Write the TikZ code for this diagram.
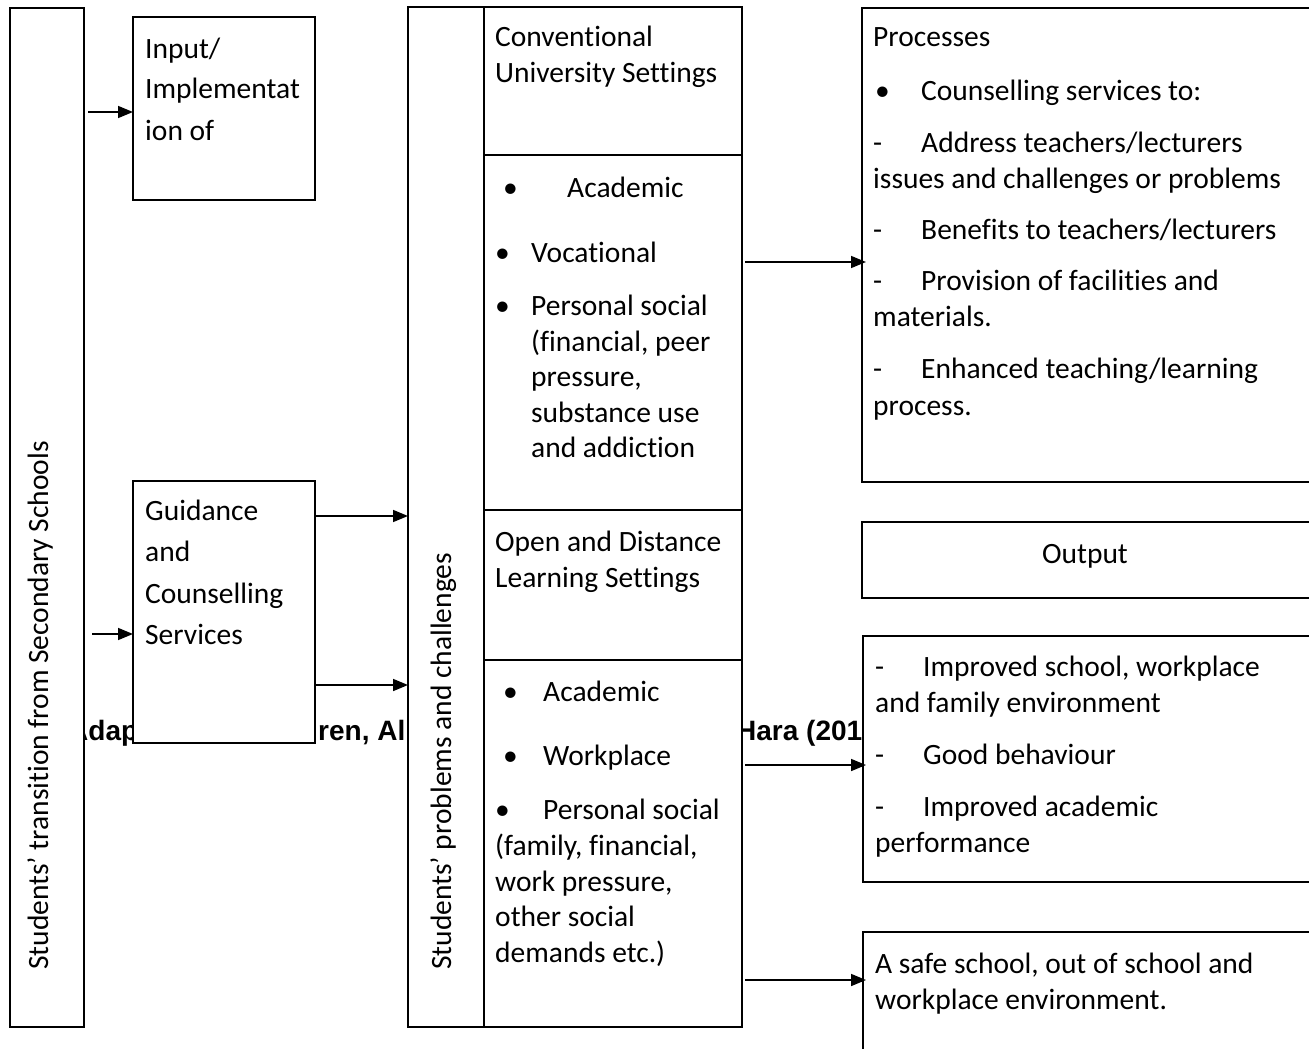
\documentclass[tikz,border=0pt]{standalone}
\usepackage{fontspec}
\setmainfont{Carlito}[Ligatures={NoCommon}]
\newfontfamily\arialfont{Liberation Sans}
\usetikzlibrary{arrows.meta,calc}
\begin{document}
\begin{tikzpicture}[x=1pt,y=-1pt,
  box/.style={draw,line width=1.6pt,fill=white,anchor=north west,inner sep=0pt,outer sep=0pt},
  txt/.style={anchor=base west,inner sep=0pt,font=\fontsize{29.5}{36}\selectfont},
  boldtxt/.style={anchor=base west,inner sep=0pt,font=\arialfont\bfseries\fontsize{28}{32}\selectfont},
  arr/.style={line width=1.6pt,-{Triangle[length=15pt,width=12pt]}}]
\useasboundingbox (0,0) rectangle (1309,1049);
\clip (0,0) rectangle (1309,1049);
% partly hidden bold caption
\node[boldtxt] (b1) at (68,740) {Adap};
\node[boldtxt] (b2) at (318,740) {ren, Al};
\node[boldtxt] (b3) at (736,740) {Hara (201};
% boxes
\node[box,minimum width=74pt,minimum height=1019pt] (left) at (10,8) {};
\node[box,minimum width=182pt,minimum height=183pt] (inp) at (133,17) {};
\node[box,minimum width=182pt,minimum height=262pt] (gui) at (133,481) {};
\node[box,minimum width=76pt,minimum height=1020pt] (col) at (408,7) {};
\node[box,minimum width=258pt,minimum height=148pt] (c1) at (484,7) {};
\node[box,minimum width=258pt,minimum height=355pt] (c2) at (484,155) {};
\node[box,minimum width=258pt,minimum height=150pt] (c3) at (484,510) {};
\node[box,minimum width=258pt,minimum height=367pt] (c4) at (484,660) {};
\node[box,minimum width=460pt,minimum height=474pt] (proc) at (862,8) {};
\node[box,minimum width=460pt,minimum height=76pt] (outp) at (862,522) {};
\node[box,minimum width=460pt,minimum height=246pt] (impr) at (863,636) {};
\node[box,minimum width=460pt,minimum height=140pt] (safe) at (863,932) {};
% rotated labels
\node[txt,rotate=90] (lt) at (48,970) {Students’ transition from Secondary Schools};
\node[txt,rotate=90] (mt) at (451,970) {Students’ problems and challenges};
% input box
\node[txt] (t1) at (145,59) {Input/};
\node[txt] (t2) at (145,99) {Implementat};
\node[txt] (t3) at (145,140) {ion of};
% guidance
\node[txt] (g1) at (145,520) {Guidance};
\node[txt] (g2) at (145,561) {and};
\node[txt] (g3) at (145,603) {Counselling};
\node[txt] (g4) at (145,644) {Services};
% conventional
\node[txt] (u1) at (495,47) {Conventional};
\node[txt] (u2) at (495,82) {University Settings};
\node[txt] (ub1) at (503,197) {•};
\node[txt] (u3) at (567,197) {Academic};
\node[txt] (ub2) at (495,262) {•};
\node[txt] (u4) at (531,262) {Vocational};
\node[txt] (ub3) at (495,315) {•};
\node[txt] (u5) at (531,315) {Personal social};
\node[txt] (u6) at (531,351) {(financial, peer};
\node[txt] (u7) at (531,386) {pressure,};
\node[txt] (u8) at (531,422) {substance use};
\node[txt] (u9) at (531,457) {and addiction};
% open and distance
\node[txt] (o1) at (495,551) {Open and Distance};
\node[txt] (o2) at (495,587) {Learning Settings};
\node[txt] (ob1) at (503,701) {•};
\node[txt] (o3) at (543,701) {Academic};
\node[txt] (ob2) at (503,765) {•};
\node[txt] (o4) at (543,765) {Workplace};
\node[txt] (ob3) at (495,819) {•};
\node[txt] (o5) at (543,819) {Personal social};
\node[txt] (o6) at (495,855) {(family, financial,};
\node[txt] (o7) at (495,891) {work pressure,};
\node[txt] (o8) at (495,926) {other social};
\node[txt] (o9) at (495,962) {demands etc.)};
% processes
\node[txt] (p1) at (873,47) {Processes};
\node[txt] (pb1) at (875,100) {•};
\node[txt] (p2) at (921,100) {Counselling services to:};
\node[txt] (pd1) at (873,152) {-};
\node[txt] (p3) at (921,152) {Address teachers/lecturers};
\node[txt] (p4) at (873,188) {issues and challenges or problems};
\node[txt] (pd2) at (873,239) {-};
\node[txt] (p5) at (921,239) {Benefits to teachers/lecturers};
\node[txt] (pd3) at (873,290) {-};
\node[txt] (p6) at (921,290) {Provision of facilities and};
\node[txt] (p7) at (873,326) {materials.};
\node[txt] (pd4) at (873,378) {-};
\node[txt] (p8) at (921,378) {Enhanced teaching/learning};
\node[txt] (p9) at (873,415) {process.};
% output
\node[txt,anchor=base] (out) at (1085,563) {Output};
% improved
\node[txt] (id1) at (875,676) {-};
\node[txt] (i1) at (923,676) {Improved school, workplace};
\node[txt] (i2) at (875,712) {and family environment};
\node[txt] (id2) at (875,764) {-};
\node[txt] (i3) at (923,764) {Good behaviour};
\node[txt] (id3) at (875,816) {-};
\node[txt] (i4) at (923,816) {Improved academic};
\node[txt] (i5) at (875,852) {performance};
% safe
\node[txt] (s1) at (875,973) {A safe school, out of school and};
\node[txt] (s2) at (875,1009) {workplace environment.};
% arrows
\draw[arr] ([xshift=4pt]left.east |- 0,112) -- (inp.west |- 0,112);
\draw[arr] ([xshift=8pt]left.east |- 0,634) -- (gui.west |- 0,634);
\draw[arr] ([xshift=1pt]gui.east |- 0,516) -- (col.west |- 0,516);
\draw[arr] ([xshift=1pt]gui.east |- 0,685) -- (col.west |- 0,685);
\draw[arr] ([xshift=3pt]c2.east |- 0,262) -- ([xshift=4pt]proc.west |- 0,262);
\draw[arr] ([xshift=3pt]c4.east |- 0,765) -- ([xshift=3pt]impr.west |- 0,765);
\draw[arr] ([xshift=3pt]c4.east |- 0,980) -- ([xshift=3pt]safe.west |- 0,980);
\end{tikzpicture}
\end{document}
